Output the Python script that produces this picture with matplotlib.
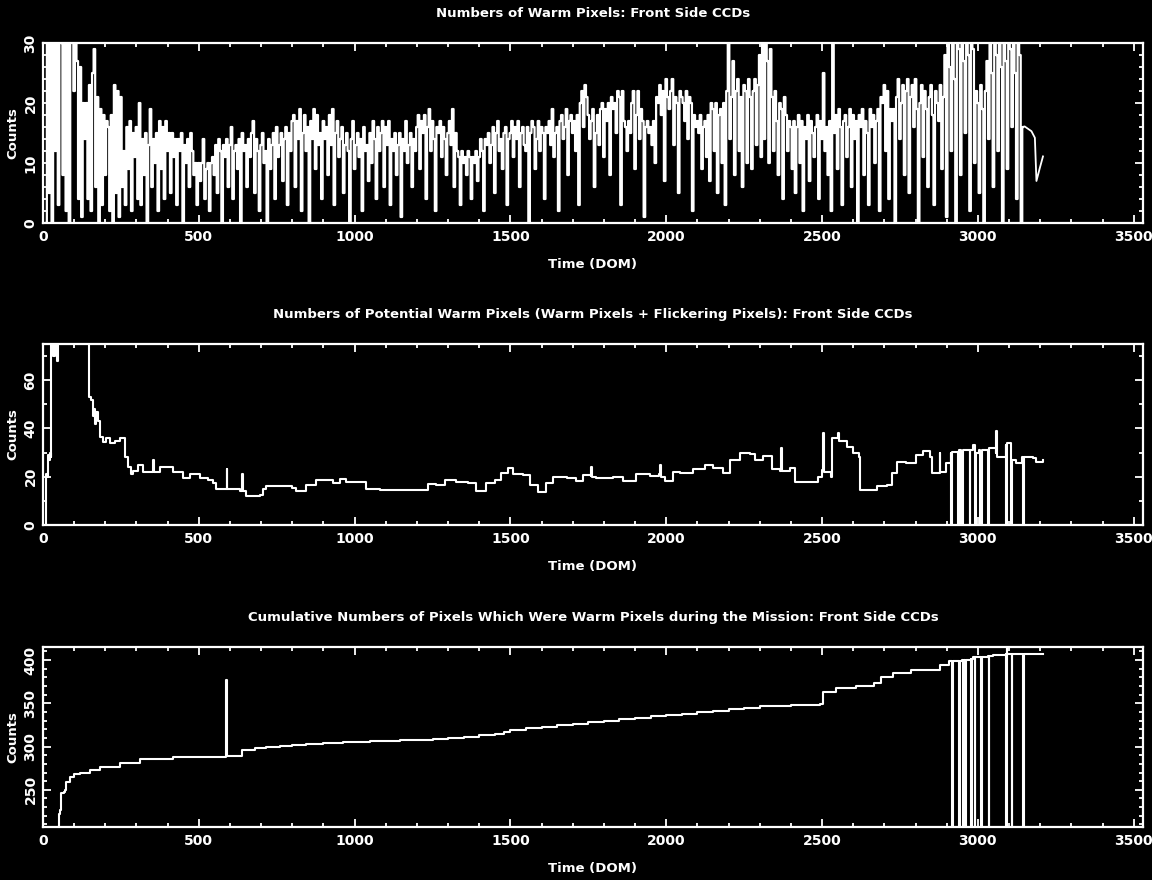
"""Warm pixel history plots for the front side CCDs."""
import matplotlib

matplotlib.use("Agg")
import matplotlib.pyplot as plt
import numpy as np
from matplotlib.ticker import MultipleLocator

# --- panel 1: daily warm pixel counts, one value every 5 days from DOM 10 to 3145
warm_start, warm_step = 10, 5
warm_counts = [
    0, 38, 5, 34, 0, 41, 12, 36, 3, 33, 30, 8, 37, 2, 32, 0, 35, 31, 22, 30,
    27, 4, 26, 1, 20, 14, 20, 4, 23, 2, 25, 29, 6, 21, 0, 19, 3, 18, 8, 17,
    16, 2, 18, 0, 23, 5, 22, 1, 21, 6, 12, 3, 16, 9, 17, 2, 15, 11, 16, 4,
    20, 3, 14, 8, 15, 0, 13, 19, 6, 14, 10, 15, 2, 17, 9, 16, 4, 17, 12, 15,
    5, 15, 11, 14, 3, 14, 12, 15, 0, 13, 10, 14, 6, 15, 12, 8, 10, 3, 10, 7,
    10, 14, 4, 9, 10, 2, 10, 11, 8, 13, 5, 14, 12, 0, 13, 11, 14, 6, 13, 16,
    4, 12, 13, 9, 14, 0, 15, 12, 13, 6, 14, 11, 15, 17, 5, 14, 12, 2, 13, 15,
    10, 12, 0, 14, 9, 13, 15, 4, 16, 11, 13, 15, 7, 14, 16, 3, 15, 12, 17, 18,
    6, 17, 14, 19, 2, 15, 18, 12, 16, 0, 17, 14, 19, 9, 18, 13, 15, 4, 17, 14,
    16, 8, 18, 13, 19, 3, 15, 17, 11, 14, 16, 5, 13, 15, 12, 0, 14, 17, 9, 13,
    15, 11, 14, 2, 16, 12, 13, 7, 15, 10, 17, 14, 4, 16, 12, 15, 17, 6, 16, 13,
    17, 3, 14, 12, 15, 8, 13, 15, 1, 14, 12, 17, 10, 13, 15, 6, 14, 12, 16, 18,
    9, 17, 15, 18, 4, 16, 19, 12, 17, 14, 2, 16, 15, 17, 11, 16, 14, 8, 15, 17,
    13, 19, 6, 15, 12, 11, 3, 12, 10, 11, 8, 12, 11, 4, 11, 10, 12, 7, 11, 14,
    12, 2, 14, 13, 15, 10, 13, 16, 5, 15, 17, 12, 14, 9, 15, 16, 3, 14, 15, 17,
    11, 16, 14, 17, 6, 15, 16, 13, 12, 16, 0, 15, 17, 16, 9, 14, 17, 12, 16, 15,
    4, 16, 15, 17, 13, 19, 11, 15, 16, 2, 17, 18, 14, 16, 19, 8, 17, 18, 15, 17,
    12, 18, 3, 20, 22, 16, 23, 21, 18, 14, 17, 19, 6, 15, 18, 13, 19, 20, 11, 19,
    17, 20, 8, 21, 19, 20, 15, 22, 21, 3, 22, 17, 16, 12, 17, 15, 20, 22, 9, 18,
    22, 14, 19, 17, 1, 16, 17, 15, 16, 13, 17, 10, 21, 20, 23, 18, 22, 7, 24, 21,
    19, 22, 24, 13, 21, 20, 5, 22, 21, 20, 17, 22, 14, 21, 20, 2, 18, 16, 17, 15,
    18, 9, 16, 17, 11, 18, 7, 20, 19, 12, 20, 5, 18, 19, 10, 20, 3, 22, 33, 14,
    21, 27, 8, 22, 24, 12, 21, 6, 23, 22, 10, 24, 21, 9, 22, 24, 13, 23, 28, 11,
    30, 14, 32, 27, 10, 29, 21, 12, 22, 17, 8, 20, 19, 4, 21, 18, 12, 17, 16, 9,
    17, 5, 16, 18, 10, 17, 2, 16, 14, 18, 7, 17, 15, 11, 16, 18, 4, 17, 14, 25,
    12, 16, 8, 17, 2, 32, 15, 18, 9, 19, 16, 3, 17, 18, 11, 16, 19, 6, 18, 14,
    17, 0, 18, 16, 19, 8, 17, 15, 3, 19, 16, 18, 10, 17, 19, 2, 21, 20, 23, 12,
    22, 4, 19, 17, 19, 0, 21, 24, 14, 20, 23, 8, 22, 24, 5, 21, 23, 16, 24, 19,
    0, 20, 23, 11, 22, 19, 6, 21, 23, 18, 3, 22, 20, 17, 23, 9, 21, 28, 1, 31,
    26, 12, 33, 24, 0, 30, 29, 8, 34, 27, 15, 31, 28, 2, 33, 29, 10, 22, 20, 5,
    23, 19, 0, 22, 27, 14, 31, 25, 6, 33, 28, 12, 30, 26, 0, 34, 27, 9, 31, 29,
    16, 33, 25, 4, 30, 28, 0, 16,
]
# smooth tail at the end of the record
tail_days = [3145, 3150, 3172, 3183, 3188, 3199, 3209]
tail_counts = [16, 16.1, 15.3, 14.2, 7.0, 9.2, 11.1]

# --- panel 2: potential warm pixels (warm + flickering)
potential_days = [
    9, 11, 13, 16, 19, 22, 25, 27, 33, 38, 44, 48, 95, 146, 148, 155, 160, 163,
    166, 171, 177, 182, 193, 203, 215, 230, 246, 262, 273, 283, 289, 305, 321,
    340, 350, 353, 356, 374, 395, 417, 449, 471, 503, 530, 546, 556, 585, 589,
    592, 610, 631, 638, 642, 653, 695, 706, 717, 781, 800, 813, 845, 877, 931,
    952, 974, 1016, 1038, 1081, 1220, 1236, 1262, 1289, 1327, 1364, 1391, 1423,
    1450, 1471, 1492, 1508, 1541, 1562, 1589, 1615, 1637, 1680, 1712, 1733,
    1758, 1760, 1763, 1776, 1830, 1861, 1893, 1904, 1947, 1977, 1979, 1982,
    1995, 2022, 2043, 2086, 2124, 2150, 2182, 2204, 2236, 2268, 2284, 2311,
    2338, 2364, 2367, 2370, 2396, 2412, 2439, 2487, 2501, 2503, 2505, 2528,
    2532, 2551, 2555, 2579, 2600, 2620, 2623, 2643, 2675, 2707, 2723, 2739,
    2771, 2803, 2824, 2846, 2852, 2875, 2877, 2880, 2899, 2913, 2915, 2917,
    2935, 2937, 2939, 2945, 2947, 2950, 2953, 2972, 2974, 2976, 2985, 2990,
    2993, 3005, 3006, 3011, 3014, 3030, 3032, 3035, 3038, 3057, 3059, 3061,
    3070, 3089, 3091, 3093, 3105, 3107, 3109, 3123, 3143, 3145, 3147, 3177,
    3188, 3209,
]
potential_counts = [
    0, 21, 20, 29, 27, 30, 28, 82, 70, 80, 68, 84, 95, 90, 53, 52, 45, 48,
    42, 47, 43, 36.5, 34.5, 36, 34, 35, 36, 28, 24, 21, 22.5, 25, 22,
    22, 22, 27, 22, 24, 24, 22, 19.5, 21, 19.5, 18.5, 17.4, 15, 15, 23,
    15, 15, 14, 21, 14, 12, 12.5, 15, 16, 16, 15.5, 14, 16.5, 18.6, 17.5,
    19, 17.7, 17.7, 15, 14.5, 14.5, 17, 16.5, 18.6, 18, 17.3, 14.2, 17.3,
    18.6, 21.7, 23.5, 21, 20.7, 16.5, 13.5, 17.3, 20, 19.4, 18.4, 20.7,
    20.5, 24, 20, 19.4, 20, 18.4, 18.4, 21, 20.5, 21, 25, 20,
    18.4, 22, 21.5, 23, 24.9, 23.5, 21.5, 27, 30, 29.5, 27, 28.6,
    23, 22.5, 32, 22.5, 23.5, 18, 18, 20, 22.8, 38, 22, 20,
    36, 38, 35, 32.5, 29.7, 28.3, 14.5, 14.5, 16, 16.6, 21.4, 26.2,
    25.5, 29, 30.8, 28.3, 21.4, 21.5, 30, 22, 25.5, 30, 0, 30.4,
    30, 0, 31, 30, 0, 0, 31, 31, 0, 31, 33, 0,
    30, 31, 0, 0, 31, 31, 0, 32, 32, 30, 39, 28.3,
    28.3, 33, 0, 34, 27, 0, 27, 25.5, 28.3, 0, 28.3, 27.7,
    26, 27,
]

# --- panel 3: cumulative number of pixels that were ever warm
cumulative_days = [
    48, 52, 54, 57, 66, 72, 75, 86, 100, 118, 150, 182, 246, 310, 417, 586,
    588, 590, 636, 640, 680, 716, 760, 800, 845, 900, 963, 1050, 1145, 1200,
    1250, 1300, 1350, 1400, 1450, 1480, 1500, 1550, 1600, 1650, 1700, 1750,
    1800, 1850, 1900, 1950, 2000, 2050, 2100, 2150, 2200, 2250, 2300, 2400,
    2492, 2503, 2546, 2610, 2668, 2690, 2728, 2787, 2877, 2909, 2918,
    2921, 2938, 2941, 2944, 2950, 2952, 2955, 2956, 2958, 2961, 2977, 2979,
    2981, 2984, 2990, 2992, 3009, 3011, 3013, 3033, 3035, 3037, 3048, 3089,
    3091, 3093, 3095, 3107, 3109, 3111, 3143, 3145, 3147, 3209,
]
cumulative_counts = [
    207, 222, 227, 246, 248, 250, 259, 265, 268, 270, 273, 276.5, 281, 286, 288, 289,
    377.5, 289, 289, 296, 298, 299.6, 300.5, 301.5, 302.8, 304, 305.5, 306.5, 307.5, 308,
    309, 310, 311, 313, 315, 317, 319, 321, 323, 325, 326.5, 328,
    330, 331.5, 333, 335, 336.5, 338, 339.5, 341, 343, 345, 346.7, 348,
    349, 363, 368, 369.5, 373, 380.5, 385, 389, 394, 399, 207,
    399, 399, 207, 399, 400, 207, 400, 400, 207, 400, 401, 207,
    401, 403, 207, 403, 404, 207, 404, 405, 207, 405, 405.6, 407.5,
    207, 415, 407.5, 407.5, 207, 407.5, 407, 207, 407, 407,
]

TITLES = [
    "Numbers of Warm Pixels: Front Side CCDs",
    "Numbers of Potential Warm Pixels (Warm Pixels + Flickering Pixels): Front Side CCDs",
    "Cumulative Numbers of Pixels Which Were Warm Pixels during the Mission: Front Side CCDs",
]

FG = "white"
BG = "black"


def style_axis(ax, title, ylim, major_y, minor_y):
    """IDL-like look: black background, white frame, inward ticks on all sides."""
    ax.set_facecolor(BG)
    ax.set_xlim(0, 3530)
    ax.set_ylim(*ylim)
    for spine in ax.spines.values():
        spine.set_color(FG)
        spine.set_linewidth(1.6)
    ax.xaxis.set_major_locator(MultipleLocator(500))
    ax.xaxis.set_minor_locator(MultipleLocator(100))
    ax.yaxis.set_major_locator(MultipleLocator(major_y))
    ax.yaxis.set_minor_locator(MultipleLocator(minor_y))
    ax.tick_params(which="both", direction="in", top=True, right=True,
                   colors=FG, labelcolor=FG, width=1.3, labelsize=10)
    ax.tick_params(which="major", length=6)
    ax.tick_params(which="minor", length=3)
    ax.tick_params(axis="x", pad=5)
    ax.tick_params(axis="y", pad=4, labelrotation=90)
    for lbl in ax.get_yticklabels():
        lbl.set_va("center")
        lbl.set_fontweight("bold")
    for lbl in ax.get_xticklabels():
        lbl.set_fontweight("bold")
    ax.set_title(title, color=FG, fontsize=9.5, fontweight="bold", pad=19)
    ax.set_xlabel("Time (DOM)", color=FG, fontsize=9.5, fontweight="bold", labelpad=10)
    ax.set_ylabel("Counts", color=FG, fontsize=9.5, fontweight="bold", labelpad=3)


def main():
    plt.rcParams["font.family"] = ["DejaVu Sans"]
    fig = plt.figure(figsize=(11.52, 8.8), dpi=100, facecolor=BG)
    boxes = [
        (0.0373, 0.7466, 0.9549, 0.2045),
        (0.0373, 0.4034, 0.9549, 0.2057),
        (0.0373, 0.0602, 0.9549, 0.2045),
    ]
    ax1, ax2, ax3 = [fig.add_axes(b) for b in boxes]

    warm_days = np.arange(len(warm_counts)) * warm_step + warm_start
    ax1.plot(warm_days, warm_counts, color=FG, lw=1.6, drawstyle="steps-mid")
    ax1.plot(tail_days, tail_counts, color=FG, lw=1.3)
    style_axis(ax1, TITLES[0], (0, 30), 10, 2)

    ax2.plot(potential_days, potential_counts, color=FG, lw=1.5, drawstyle="steps-post")
    style_axis(ax2, TITLES[1], (0, 75), 20, 10)

    ax3.plot(cumulative_days, cumulative_counts, color=FG, lw=1.5, drawstyle="steps-post")
    style_axis(ax3, TITLES[2], (207, 415), 50, 10)

    fig.savefig("out.png", dpi=100, facecolor=BG)
    plt.close(fig)


if __name__ == "__main__":
    main()
